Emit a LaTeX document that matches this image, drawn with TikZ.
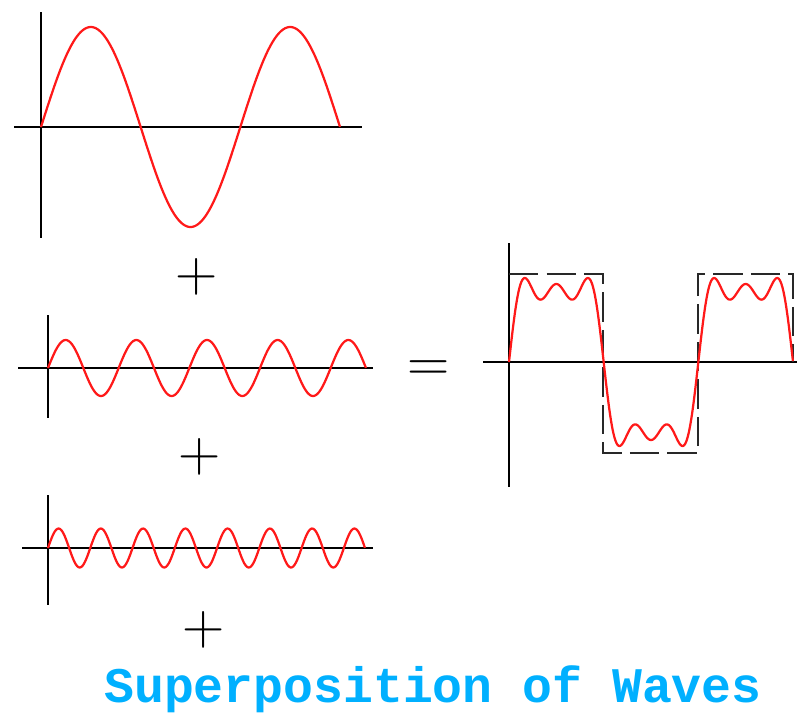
\documentclass[tikz,border=0pt]{standalone}
\usepackage{fontspec}
\newfontfamily\titlefont{Liberation Mono}
\definecolor{titleblue}{RGB}{0,176,255}
\definecolor{dashgray}{RGB}{40,40,40}
\tikzset{
  axis/.style={line width=2.4pt,black},
  wave/.style={line width=1.9pt,red!90!white,line join=round},
  sqwave/.style={line width=2pt,dashgray,dash pattern=on 25pt off 7pt},
  sign/.style={font=\fontsize{50}{50}\selectfont,inner sep=0pt,anchor=base},
}
\begin{document}
\begin{tikzpicture}[x=0.03cm,y=-0.03cm]
\useasboundingbox (0,0) rectangle (797,720);
% harmonics: n / origin x / origin y / width / amplitude / axis left / right / top / bottom
\foreach \n/\ox/\oy/\w/\amp/\al/\ar/\at/\ab in {1/41/127/299/100/14/362/12/238,3/48/368/318/28/18/373/315/418,5/48/548/317/19.5/22/373/495/605} {
  \draw[axis] (\al,\oy) -- (\ar,\oy);
  \draw[axis] (\ox,\at) -- (\ox,\ab);
  \draw[wave] plot[domain=0:3*pi,samples=240,smooth] ({\ox+\x*\w/(3*pi)},{\oy-\amp*sin(\n*\x r)});
}
% the sum
\draw[axis] (483,362) -- (797,362);
\draw[axis] (509,243) -- (509,487);
\draw[sqwave] (509,274) -| (603,453) -| (698,274) -| (793,362);
\draw[wave] plot[domain=0:3*pi,samples=300,smooth] ({509+\x*284/(3*pi)},{362-90*(sin(\x r)+sin(3*\x r)/3+sin(5*\x r)/5)});
\node[sign] (plusA) at (197,291.5) {+};
\node[sign] (plusB) at (200,471.5) {+};
\node[sign] (plusC) at (204,644.5) {+};
\node[sign] (eq) at (429,381.5) {=};
\node[anchor=base,inner sep=0pt,text=titleblue,font=\titlefont\bfseries\fontsize{42.5}{42.5}\selectfont] (title) at (433,702) {Superposition of Waves};
\end{tikzpicture}
\end{document}
